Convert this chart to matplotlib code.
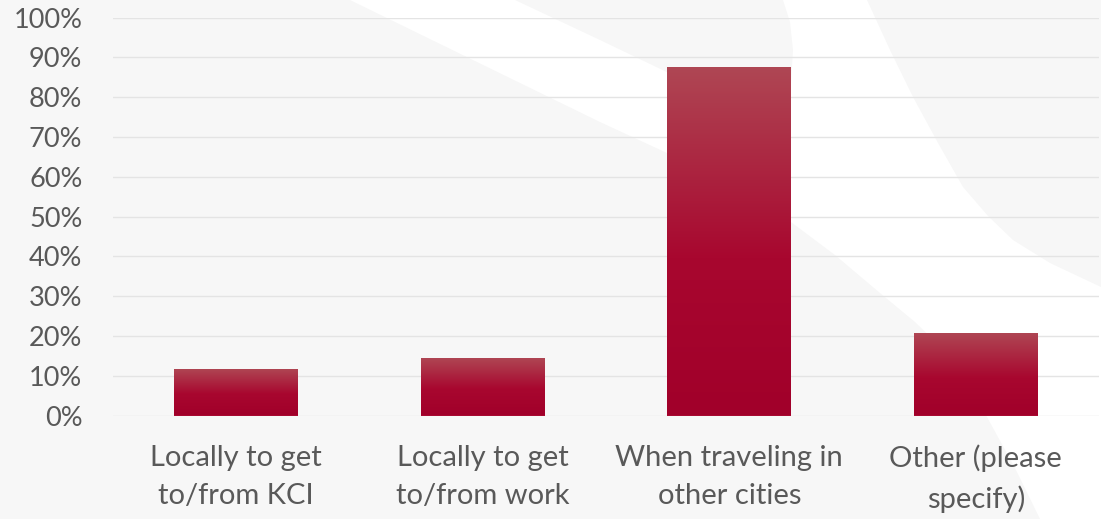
import numpy as np
import matplotlib
matplotlib.use("Agg")
import matplotlib.pyplot as plt
from matplotlib.patches import Polygon
from matplotlib.colors import LinearSegmentedColormap

categories = ["Locally to get\nto/from KCI", "Locally to get\nto/from work",
              "When traveling in\nother cities", "Other (please\nspecify)"]
values = [11.7, 14.5, 87.6, 20.7]
yticks = [0, 10, 20, 30, 40, 50, 60, 70, 80, 90, 100]
ytick_labels = [f"{t}%" for t in yticks]

W, H = 1101, 519
fig = plt.figure(figsize=(W / 100, H / 100), dpi=100)
fig.patch.set_facecolor("#f7f7f7")

def px(points):
    return [(x / W, 1 - y / H) for x, y in points]

# decorative white swoosh in background
swoosh = [(350, 0), (515, 0), (600, 40), (700, 88), (775, 123), (790, 100),
          (793, 50), (790, 22), (783, 0), (867, 0), (890, 50), (913, 97),
          (938, 143), (963, 187), (988, 216), (1013, 240), (1050, 263),
          (1101, 287), (1101, 519), (1040, 519), (1015, 468), (987, 417),
          (947, 353), (915, 322), (880, 293), (835, 255), (791, 222),
          (750, 193), (667, 153), (600, 122), (350, 0)]
fig.add_artist(Polygon(px(swoosh), closed=True, transform=fig.transFigure,
                       facecolor="white", edgecolor="none", zorder=0))

ax = fig.add_axes([113 / W, 1 - 415.5 / H, (1099 - 113) / W, (415.5 - 17.7) / H])
ax.set_facecolor("none")
x = np.arange(len(categories))
bars = ax.bar(x, values, width=0.503, color="#a80a31", zorder=3)

cmap = LinearSegmentedColormap.from_list(
    "g", [(0.0, "#a1002a"), (0.45, "#a8072f"), (1.0, "#af4754")])
grad = np.linspace(0, 1, 256).reshape(-1, 1)
for b in bars:
    x0, y0 = b.get_x(), b.get_y()
    w, h = b.get_width(), b.get_height()
    im = ax.imshow(grad, cmap=cmap, origin="lower", aspect="auto",
                   extent=[x0, x0 + w, y0, y0 + h], zorder=4)
    im.set_clip_path(b)

ax.set_xlim(-0.5, len(categories) - 0.5)
ax.set_ylim(0, 100)
ax.set_yticks(yticks)
ax.set_yticklabels(ytick_labels)
ax.set_xticks(x)
ax.set_xticklabels(categories, linespacing=1.6)
ax.grid(axis="y", color="#e4e4e4", linewidth=1.0, zorder=0)
ax.set_axisbelow(True)
for s in ax.spines.values():
    s.set_visible(False)
ax.tick_params(axis="both", length=0, colors="#595959")
ax.tick_params(axis="y", pad=22, labelsize=19.5)
ax.tick_params(axis="x", pad=21, labelsize=21)
for lab in ax.get_xticklabels() + ax.get_yticklabels():
    lab.set_fontfamily("Lato")
    lab.set_color("#595959")

fig.savefig("out.png", dpi=100, facecolor=fig.get_facecolor())
